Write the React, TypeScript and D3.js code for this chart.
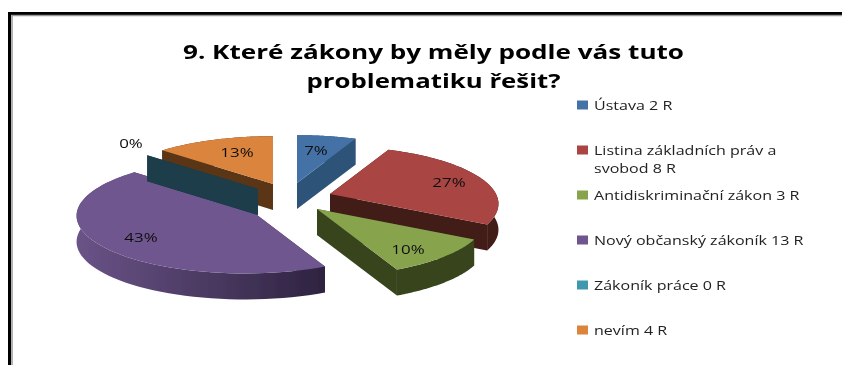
import React from "react";
import * as d3 from "d3";

const categories = ["Ústava", "Listina", "Antidiskriminační", "Nový občanský", "Zákoník práce", "nevím"];
const values = [2, 8, 3, 13, 0, 4];
const percentLabels = ["7%", "27%", "10%", "43%", "0%", "13%"];
const legendLines = [
  ["Ústava 2 R"],
  ["Listina základních práv a", "svobod 8 R"],
  ["Antidiskriminační zákon 3 R"],
  ["Nový občanský zákoník 13 R"],
  ["Zákoník práce 0 R"],
  ["nevím 4 R"],
];
const titleLines = ["9. Které zákony by měly podle vás tuto", "problematiku řešit?"];

const topColors = ["#4472a6", "#a94442", "#87a44d", "#70568e", "#4198af", "#db843d"];
const sideColors = ["#2f5278", "#431a18", "#37441f", "url(#purpleRim)", "#1a3d4a", "#5a3415"];
const apexes: [number, number][] = [[297, 183], [330, 194], [317, 209], [245, 206], [258, 189], [273, 184]];
const labelPos: [number, number][] = [[316, 150], [449, 182], [408, 249], [141, 237], [131, 143], [237, 152]];
const paintOrder = [5, 0, 1, 3, 4, 2];
const legendY = [105, 150, 195, 240, 285, 330];

const R = 166, RY = 56, P = 0.17, DEPTH = 26;

const pieGen = d3.pie<number>().sort(null).value((d) => d);
const arcs = pieGen(values);
const line = d3.line<[number, number]>();

function project(i: number, angle: number, r: number, h: number): [number, number] {
  const u = Math.sin(angle) * r;
  const v = -Math.cos(angle) * r;
  const s = 1 / (1 - P * v);
  return [apexes[i][0] + R * u * s, apexes[i][1] + RY * v * s + h * DEPTH];
}

function sliceParts(i: number) {
  const { startAngle: a0, endAngle: a1 } = arcs[i];
  const steps = d3.range(0, 61).map((k) => d3.interpolateNumber(a0, a1)(k / 60));
  const topArc = steps.map((a) => project(i, a, 1, 0));
  const botArc = steps.map((a) => project(i, a, 1, 1));
  const apexT = project(i, 0, 0, 0);
  const apexB = project(i, 0, 0, 1);
  return {
    top: line([apexT, ...topArc])! + "Z",
    rim: line([...topArc, ...[...botArc].reverse()])! + "Z",
    cutA: line([apexT, topArc[0], botArc[0], apexB])! + "Z",
    cutB: line([apexT, topArc[60], botArc[60], apexB])! + "Z",
  };
}

const sans = "'Open Sans', 'Noto Sans', sans-serif";

export default function App() {
  return (
    <svg width={842} height={365} style={{ position: "absolute", left: 0, top: 0, background: "#fff" }}>
      <defs>
        <linearGradient id="purpleRim" x1="0" x2="1" y1="0" y2="0">
          <stop offset="0" stopColor="#6a5387" />
          <stop offset="1" stopColor="#2e2340" />
        </linearGradient>
        <filter id="soft" x="-5%" y="-5%" width="110%" height="110%">
          <feGaussianBlur stdDeviation="0.45" />
        </filter>
      </defs>
      <g filter="url(#soft)">
        <path d="M9.5 365V13.5H842" fill="none" stroke="#000" strokeWidth={3} />
        <path d="M12 365V15.5H842" fill="none" stroke="#999" strokeWidth={1.5} />
        <g fill="#000" fontFamily={sans} fontWeight={700} fontSize={19} textAnchor="middle">
          {titleLines.map((t, i) => (
            <text key={t} x={433.5} y={59 + i * 29} textLength={i === 0 ? 501 : 254} lengthAdjust="spacingAndGlyphs">{t}</text>
          ))}
        </g>
        {paintOrder.map((i) => {
          const p = sliceParts(i);
          const solid = i === 3 ? "#2e2340" : sideColors[i];
          return (
            <g key={categories[i]}>
              <path d={p.cutA} fill={solid} />
              <path d={p.cutB} fill={solid} />
              <path d={p.rim} fill={sideColors[i]} />
              <path d={p.top} fill={topColors[i]} />
            </g>
          );
        })}
        <g fontFamily={sans} fontSize={13} fill="#111" textAnchor="middle">
          {percentLabels.map((t, i) => (
            <text key={t} transform={`translate(${labelPos[i][0]},${labelPos[i][1] + 5}) scale(1.3,1)`}>{t}</text>
          ))}
        </g>
        {legendLines.map((lines, i) => (
          <g key={lines[0]}>
            <rect x={577} y={legendY[i] - 4.5} width={11} height={9} fill={topColors[i]} />
            {lines.map((t, j) => (
              <text
                key={t}
                transform={`translate(594,${legendY[i] + 5 + j * 18}) scale(1.235,1)`}
                fontFamily={sans}
                fontSize={13}
                fill="#222"
              >
                {t}
              </text>
            ))}
          </g>
        ))}
      </g>
    </svg>
  );
}
